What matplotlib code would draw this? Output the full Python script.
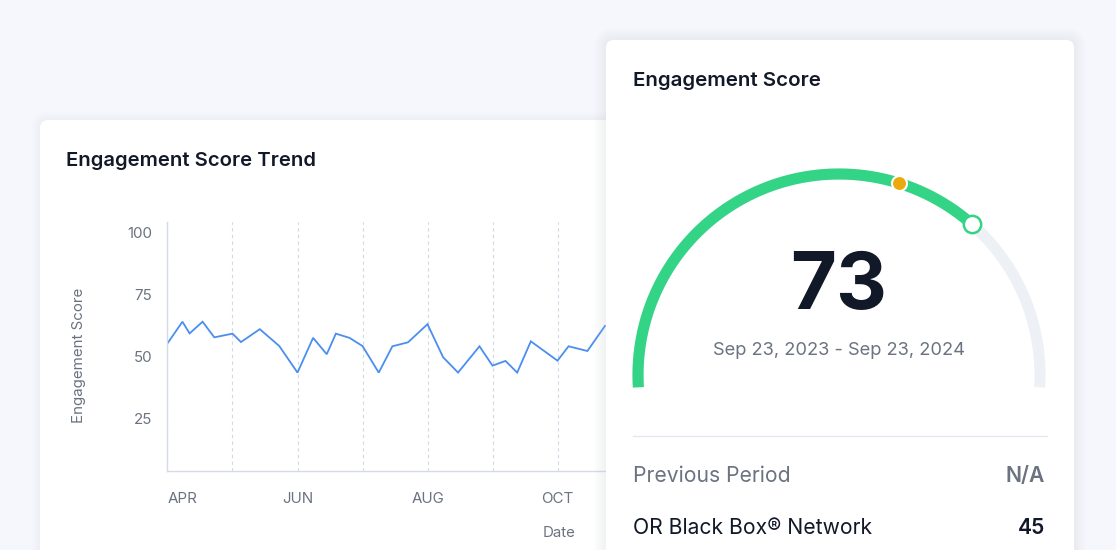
import matplotlib
matplotlib.use('Agg')
import matplotlib.pyplot as plt
from matplotlib.patches import FancyBboxPatch
import numpy as np

# ---------------- data ----------------
# x in months since April 1st (0 = APR, 1 = MAY, ...)
months_x = [0.0, 0.23, 0.34, 0.54, 0.72, 1.0, 1.13, 1.42, 1.72, 2.0, 2.24, 2.45,
            2.59, 2.80, 3.0, 3.25, 3.46, 3.70, 4.0, 4.24, 4.47, 4.80, 5.0, 5.20,
            5.38, 5.59, 6.0, 6.17, 6.46, 6.73]
scores = [55.5, 64.2, 59.5, 64.2, 57.9, 59.4, 56.0, 61.2, 54.4, 43.7, 57.7, 51.1,
          59.4, 57.7, 54.4, 43.7, 54.3, 55.9, 63.2, 49.9, 43.7, 54.3, 46.5, 48.4,
          43.7, 56.3, 48.5, 54.3, 52.4, 62.5]
month_ticks = [0, 1, 2, 3, 4, 5, 6, 7]
month_labels = ['APR', '', 'JUN', '', 'AUG', '', 'OCT', '']
y_ticks = [25, 50, 75, 100]

gauge_score = 73
benchmark_score = 59.6
period_text = 'Sep 23, 2023 - Sep 23, 2024'
rows = [('Previous Period', 'N/A'), ('OR Black Box\u00ae Network', '45')]

# ---------------- style ----------------
plt.rcParams['font.family'] = ['Inter', 'DejaVu Sans']
BG = '#f5f7fc'
DARK = '#111827'
GRAY = '#6b7280'
BLUE = '#4a8ef0'
GREEN = '#34d486'
TRACK = '#edf0f5'
ORANGE = '#eaa90c'

W, H = 1116, 550
fig = plt.figure(figsize=(W / 100, H / 100), dpi=100)
fig.patch.set_facecolor(BG)


def px_rect(x0, y0, x1, y1):
    return [x0 / W, 1 - y1 / H, (x1 - x0) / W, (y1 - y0) / H]


def card(ax, x, y, w, h, glow=12, glow_color='#cfd8ef', glow_alpha=0.02):
    for i in range(glow, 0, -1):
        ax.add_patch(FancyBboxPatch((x - i, y - i), w + 2 * i, h + 2 * i,
                                    boxstyle=f'round,pad=0,rounding_size={8 + i}',
                                    fc=glow_color, ec='none', alpha=glow_alpha))
    ax.add_patch(FancyBboxPatch((x, y), w, h, boxstyle='round,pad=0,rounding_size=8',
                                fc='white', ec='none'))


# background layer with left card
bg = fig.add_axes([0, 0, 1, 1], zorder=0)
bg.set_xlim(0, W)
bg.set_ylim(H, 0)
bg.axis('off')
card(bg, 40, 120, 660, 480, glow=8, glow_alpha=0.02)
bg.text(66, 165.5, 'Engagement Score Trend', fontsize=14.6, fontweight='semibold',
        color=DARK, va='baseline', ha='left')
bg.text(79, 355, 'Engagement Score', fontsize=10.9, color=GRAY, rotation=90,
        va='center', ha='center')
bg.text(559, 533, 'Date', fontsize=10.8, color=GRAY, va='center', ha='center')

# line chart
x0_px, month_px = 167.5, 65.0
ax = fig.add_axes(px_rect(x0_px, 222, 700, 471), zorder=1)
ax.set_facecolor('none')
ax.plot(months_x, scores, color=BLUE, lw=1.3, solid_joinstyle='miter')
ax.set_xlim(0, (700 - x0_px) / month_px)
ax.set_ylim(4.03, 104.4)
ax.set_yticks(y_ticks)
ax.set_yticklabels([str(v) for v in y_ticks])
ax.set_xticks(month_ticks)
ax.set_xticklabels(month_labels)
ax.xaxis.grid(True, color='#d3d8e6', lw=0.8, linestyle=(0, (3, 3)))
ax.yaxis.grid(False)
for s in ['top', 'right']:
    ax.spines[s].set_visible(False)
for s in ['left', 'bottom']:
    ax.spines[s].set_color('#d5dae6')
    ax.spines[s].set_linewidth(1.0)
ax.tick_params(axis='both', length=0, colors=GRAY, labelsize=10.9)
ax.tick_params(axis='y', pad=11)
ax.tick_params(axis='x', pad=15)
ax.get_xticklabels()[0].set_ha('left')

# overlay with right card
ov = fig.add_axes([0, 0, 1, 1], zorder=2)
ov.set_xlim(0, W)
ov.set_ylim(H, 0)
ov.axis('off')
card(ov, 606, 40, 468, 560, glow=12, glow_color='#c9d3ee', glow_alpha=0.018)
ov.text(633, 85.7, 'Engagement Score', fontsize=14.8, fontweight='semibold',
        color=DARK, va='baseline', ha='left')

cx, cy, R = 839, 375, 201


def ang(v):
    return np.radians(180 - 1.8 * v)


def arc(v0, v1, n=300):
    t = np.linspace(ang(v0), ang(v1), n)
    return cx + R * np.cos(t), cy - R * np.sin(t)


ov.plot(*arc(-1.95, 101.95), color=TRACK, lw=8, solid_capstyle='butt')
ov.plot(*arc(-1.95, gauge_score), color=GREEN, lw=8, solid_capstyle='butt')
bx, by = cx + R * np.cos(ang(benchmark_score)), cy - R * np.sin(ang(benchmark_score))
ov.plot([bx], [by], marker='o', ms=10.8, mfc=ORANGE, mec='white', mew=1.5)
gx, gy = cx + R * np.cos(ang(gauge_score)), cy - R * np.sin(ang(gauge_score))
ov.plot([gx], [gy], marker='o', ms=12.5, mfc='white', mec=GREEN, mew=1.8)

ov.text(cx, 309, str(gauge_score), fontsize=57, fontweight='bold', color=DARK,
        ha='center', va='baseline')
ov.text(cx, 355, period_text, fontsize=13.2, color=GRAY, ha='center', va='baseline')

ov.plot([633, 1047], [436, 436], color='#e3e8f0', lw=1)
ov.text(633, 481.7, rows[0][0], fontsize=15.2, color=GRAY, ha='left', va='baseline')
ov.text(1045, 481.7, rows[0][1], fontsize=15.2, color=GRAY, fontweight='semibold',
        ha='right', va='baseline')
ov.text(633, 534.3, rows[1][0], fontsize=15.2, color=DARK, ha='left', va='baseline')
ov.text(1045, 534.3, rows[1][1], fontsize=15.2, color=DARK, fontweight='semibold',
        ha='right', va='baseline')

fig.savefig('out.png', dpi=100, facecolor=BG)
